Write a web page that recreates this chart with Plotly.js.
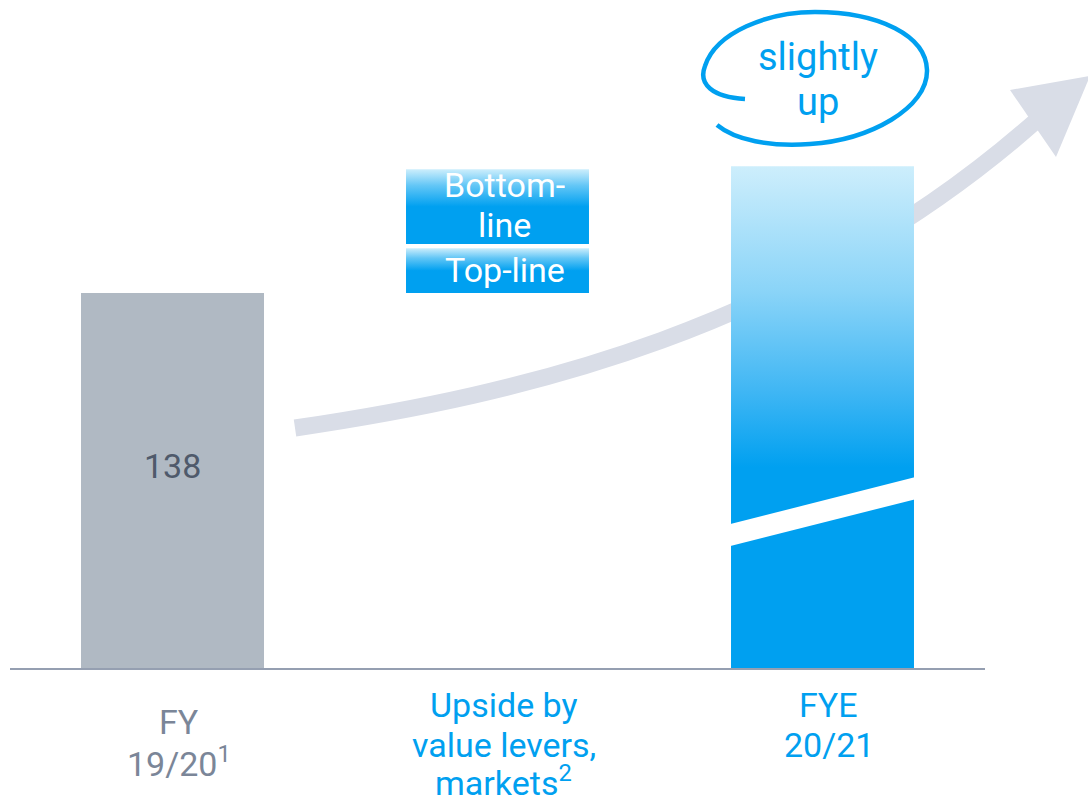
<!DOCTYPE html>
<html>
<head>
<meta charset="utf-8">
<script src="https://cdn.plot.ly/plotly-3.0.1.min.js"></script>
<style>
  html, body { margin: 0; padding: 0; background: #ffffff; }
  #chart { width: 1088px; height: 800px; }
</style>
</head>
<body>
<div id="chart"></div>
<script>
// ---- data ----
const categories = ['FY 19/20', 'Upside by value levers, markets', 'FYE 20/21'];
const categoryLabels = [
  ['FY', '19/20<sup>1</sup>'],
  ['Upside by', 'value levers,', 'markets<sup>2</sup>'],
  ['FYE', '20/21']
];
const fy1920Value = 138;
const upsideBlocks = ['Top-line', 'Bottom-line'];
const upsideValues = [17.3, 28.3];
const upsideLabels = [['Top-line'], ['Bottom-', 'line']];
const fye2021Value = 184.7;
const calloutLines = ['slightly', 'up'];

// ---- styling ----
const GREY_BAR = '#b0b9c3';
const BLUE = '#00a0f0';
const LIGHT_BLUE = '#cdeefc';
const GREY_TEXT = '#7b8698';
const ARROW = '#d9dde7';
const BAR_W = 0.563;
const FONT = 'Roboto, "Noto Sans", sans-serif';
const W = 1088, H = 800;
const M = {l: 10, r: 103, t: 0, b: 132};
const PW = W - M.l - M.r, PH = H - M.t - M.b;
const Y_MAX = 245.9;

// pixel -> paper helpers for decorative shapes
const X = px => ((px - M.l) / PW).toFixed(5);
const Y = py => ((H - M.b - py) / PH).toFixed(5);
function pathPx(str) {
  return str.replace(/(-?\d+(?:\.\d+)?),(-?\d+(?:\.\d+)?)/g, (m, a, b) => X(+a) + ',' + Y(+b));
}

function rectPoly(xc, y0, y1) {
  const a = xc - BAR_W / 2, b = xc + BAR_W / 2;
  return {x: [a, b, b, a, a], y: [y0, y0, y1, y1, y0]};
}

const traces = [];

// FY 19/20 bar
traces.push({
  type: 'bar', x: [0], y: [fy1920Value], width: BAR_W,
  marker: {color: GREY_BAR, line: {width: 0}},
  hoverinfo: 'skip'
});

// Upside floating blocks (gradient)
const GAP = 0.75;
let base = fy1920Value;
upsideValues.forEach((v, i) => {
  const y0 = base + (i === 0 ? 0 : GAP);
  const y1 = base + v - (i === 0 ? GAP : 0);
  const p = rectPoly(1, y0, y1);
  traces.push({
    type: 'scatter', mode: 'lines', x: p.x, y: p.y, fill: 'toself',
    line: {width: 0, color: 'rgba(0,0,0,0)'},
    fillgradient: {type: 'vertical', start: y0, stop: y1,
      colorscale: [[0, BLUE], [0.5, BLUE], [0.78, '#62c6f6'], [1, LIGHT_BLUE]]},
    hoverinfo: 'skip', name: upsideBlocks[i]
  });
  base += v;
});

// FYE 20/21 bar (gradient)
{
  const p = rectPoly(2, 0, fye2021Value);
  traces.push({
    type: 'scatter', mode: 'lines', x: p.x, y: p.y, fill: 'toself',
    line: {width: 0, color: 'rgba(0,0,0,0)'},
    fillgradient: {type: 'vertical', start: 0, stop: fye2021Value,
      colorscale: [[0, BLUE], [0.40, BLUE], [0.55, '#3fb6f4'], [0.75, '#8ad4f8'], [1, LIGHT_BLUE]]},
    hoverinfo: 'skip'
  });
}

// ---- annotations ----
const annotations = [];
// value label on grey bar
annotations.push({
  x: 0, y: fy1920Value * 0.54, xref: 'x', yref: 'y', text: String(fy1920Value),
  xanchor: 'center', yanchor: 'middle',
  showarrow: false, font: {family: FONT, size: 34, color: '#4f5a6b'}
});
// upside block labels, one line each
base = fy1920Value;
const blockLineShift = [[0], [23, -17]];
upsideValues.forEach((v, i) => {
  upsideLabels[i].forEach((t, j) => {
    annotations.push({
      x: 1, xshift: 7, y: base + v / 2, xref: 'x', yref: 'y', yshift: blockLineShift[i][j],
      xanchor: 'center', yanchor: 'middle', text: t, height: 36, borderpad: 0,
      showarrow: false, font: {family: FONT, size: 34, color: '#ffffff'}
    });
  });
  base += v;
});
// category labels, one line each
const labelStart = [722, 705, 705];
const labelColor = [GREY_TEXT, BLUE, BLUE];
categoryLabels.forEach((lines, i) => {
  lines.forEach((t, j) => {
    annotations.push({
      x: i, xref: 'x', xshift: 6, y: 0, yref: 'paper',
      xanchor: 'center', yanchor: 'middle', height: 38, borderpad: 0,
      yshift: -(labelStart[i] + j * 40 - (H - M.b)) + (j === 2 ? 4 : 0),
      text: t, showarrow: false,
      font: {family: FONT, size: 34, color: labelColor[i]}
    });
  });
});
// callout text
calloutLines.forEach((t, j) => {
  annotations.push({
    x: +X(818), y: +Y(57 + j * 45), xref: 'paper', yref: 'paper',
    xanchor: 'center', yanchor: 'middle', text: t, height: 42, borderpad: 0,
    showarrow: false, font: {family: FONT, size: 38, color: BLUE}
  });
});

// ---- decorative shapes ----
const shapes = [
  // growth arrow shaft
  {type: 'path', xref: 'paper', yref: 'paper', layer: 'below',
   path: pathPx('M295,428 C520,395 800,330 1037,120'),
   line: {color: ARROW, width: 17}},
  // arrow head
  {type: 'path', xref: 'paper', yref: 'paper', layer: 'below',
   path: pathPx('M1010,90 L1090,76 L1056,157 Z'),
   fillcolor: ARROW, line: {width: 0}},
  // axis-break band on FYE bar
  {type: 'path', xref: 'x', yref: 'y', layer: 'above',
   path: `M${2 - BAR_W / 2 - 0.02},${fye2021Value * 0.284} L${2 + BAR_W / 2 + 0.02},${fye2021Value * 0.383} ` +
         `L${2 + BAR_W / 2 + 0.02},${fye2021Value * 0.339} L${2 - BAR_W / 2 - 0.02},${fye2021Value * 0.240} Z`,
   fillcolor: '#ffffff', line: {width: 0}},
  // hand-drawn callout ellipse
  {type: 'path', xref: 'paper', yref: 'paper', layer: 'above',
   path: pathPx('M745,99 C712,97 698,84 705,66 C716,32 768,12 815,12 C880,12 926,36 927,70 C928,108 870,140 810,144 C770,147 735,140 717,125'),
   line: {color: BLUE, width: 4.5}}
];

const layout = {
  width: W, height: H,
  margin: M,
  paper_bgcolor: '#ffffff', plot_bgcolor: '#ffffff',
  showlegend: false,
  font: {family: FONT},
  xaxis: {range: [-0.5, 2.5], showgrid: false, zeroline: false, showticklabels: false,
          ticks: '', showline: true, linecolor: '#959fb1', linewidth: 2, fixedrange: true},
  yaxis: {range: [0, Y_MAX], visible: false, fixedrange: true},
  annotations: annotations,
  shapes: shapes
};

Plotly.newPlot('chart', traces, layout, {displayModeBar: false, staticPlot: true});
</script>
</body>
</html>
